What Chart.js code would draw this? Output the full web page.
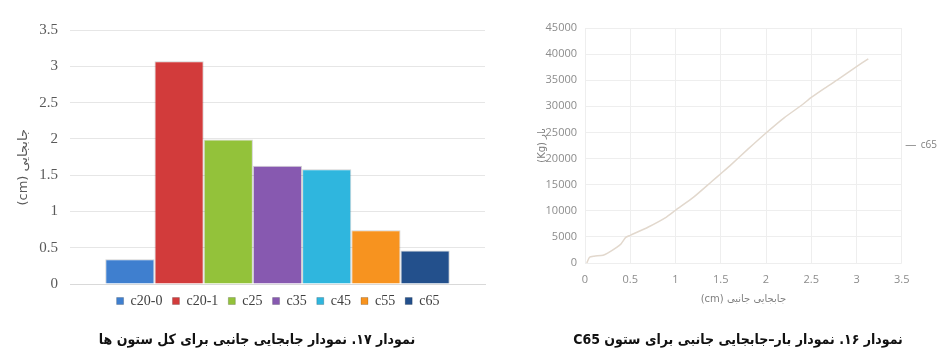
<!DOCTYPE html>
<html>
<head>
<meta charset="utf-8">
<script src="https://cdn.jsdelivr.net/npm/chart.js@4.4.1/dist/chart.umd.min.js"></script>
<style>
  body { margin: 0; background: #fff; width: 951px; height: 363px; overflow: hidden; position: relative; }
  #wrapBar { position: absolute; left: 0; top: 0; width: 545px; height: 320px; }
  #wrapLoad { position: absolute; left: 520px; top: 0; width: 431px; height: 320px; }
  .caption { position: absolute; top: 331px; font-family: "DejaVu Sans Condensed", "DejaVu Sans", sans-serif;
             font-stretch: condensed; font-weight: bold; font-size: 14px; color: #111;
             white-space: nowrap; direction: rtl; }
  #capBar { left: 62px; width: 390px; text-align: center; }
  #capLoad { left: 538px; width: 400px; text-align: center; }
</style>
</head>
<body>
<div id="wrapLoad"><canvas id="loadChart"></canvas></div>
<div id="wrapBar"><canvas id="barChart"></canvas></div>
<div class="caption" id="capBar">نمودار ۱۷. نمودار جابجایی جانبی برای کل ستون ها</div>
<div class="caption" id="capLoad">نمودار ۱۶. نمودار بار–جابجایی جانبی برای ستون C65</div>

<script>
/* data for the bar chart (max lateral displacement, cm) */
const columnNames = ['c20-0', 'c20-1', 'c25', 'c35', 'c45', 'c55', 'c65'];
const displacements = [0.34, 3.07, 1.99, 1.63, 1.58, 0.74, 0.46];
const columnColors = ['#3f7fcf', '#d23b3b', '#93c23a', '#8759b0', '#2fb6de', '#f7931f', '#23508c'];

/* data for the load-displacement curve of c65 */
const c65Disp = [0.02, 0.05, 0.1, 0.2, 0.25, 0.35, 0.4, 0.45, 0.5, 0.7, 0.9, 1.0, 1.2, 1.4, 1.5, 1.6, 1.8, 2.0, 2.2, 2.4, 2.5, 2.65, 2.8, 3.0, 3.13];
const c65Load = [0, 1100, 1300, 1500, 1900, 3000, 3700, 4900, 5300, 6900, 8800, 10100, 12600, 15600, 17100, 18600, 21800, 24900, 27800, 30300, 31700, 33500, 35200, 37600, 39100];


/**************** bar chart *************************/

const serif = "'Liberation Serif', 'DejaVu Serif', serif";

const barSets = columnNames.map((name, i) => ({
    label: name,
    data: [displacements[i]],
    backgroundColor: columnColors[i],
    borderColor: 'rgba(0,0,0,0.18)',
    borderWidth: 1,
    barPercentage: 1,
    categoryPercentage: 0.83
}));

new Chart(document.getElementById('barChart'), {
    type: 'bar',
    data: { labels: [''], datasets: barSets },
    options: {
        responsive: true,
        maintainAspectRatio: false,
        animation: false,
        layout: { padding: { top: 30, left: 11, right: 0, bottom: 2 } },
        plugins: {
            tooltip: { enabled: false },
            legend: {
                position: 'bottom',
                labels: {
                    boxWidth: 7, boxHeight: 7, padding: 10,
                    color: '#404040',
                    font: { family: serif, size: 14 }
                }
            }
        },
        scales: {
            x: {
                ticks: { display: false },
                grid: { display: false },
                border: { display: true, color: '#d9d9d9' },
                afterFit: (s) => { s.height = 0; }
            },
            y: {
                min: 0, max: 3.5,
                ticks: { stepSize: 0.5, padding: 12, color: '#595959', font: { family: serif, size: 15 },
                         callback: (v) => String(v) },
                grid: { color: '#e6e6e6', drawTicks: false },
                border: { display: false },
                // trailing spaces push the title a little lower, as in the original
                title: { display: true, text: '(cm) جابجایی\u00a0\u00a0\u00a0\u00a0\u00a0', color: '#595959', padding: 5,
                         font: { family: "'DejaVu Sans', sans-serif", size: 13 } },
                afterFit: (s) => { s.width = 59; }
            },
            // empty right axis: keeps the plot narrow so the legend sits centred under the bars
            yRight: {
                position: 'right',
                ticks: { display: false },
                grid: { display: false },
                border: { display: false },
                afterFit: (s) => { s.width = 60; }
            }
        }
    }
});


/**************** load - displacement chart *************************/

const sans = "'Open Sans', 'DejaVu Sans', sans-serif";

new Chart(document.getElementById('loadChart'), {
    type: 'line',
    data: {
        datasets: [{
            label: 'c65',
            data: c65Disp.map((d, i) => ({ x: d, y: c65Load[i] })),
            borderColor: '#e2d8cd',
            backgroundColor: '#9a9a9a',
            borderWidth: 1.5,
            pointRadius: 0,
            tension: 0.2
        }]
    },
    options: {
        responsive: true,
        maintainAspectRatio: false,
        animation: false,
        layout: { padding: { top: 28, left: 14, right: 4, bottom: 13 } },
        plugins: {
            tooltip: { enabled: false },
            legend: {
                position: 'right',
                fullSize: false,
                labels: {
                    boxWidth: 10, boxHeight: 0, padding: 4,
                    color: '#7f7f7f',
                    font: { family: sans, size: 10 },
                    generateLabels: (chart) => [{
                        text: 'c65', fillStyle: '#9a9a9a', strokeStyle: '#9a9a9a',
                        lineWidth: 1, fontColor: '#7f7f7f', datasetIndex: 0
                    }]
                }
            }
        },
        scales: {
            x: {
                type: 'linear',
                min: 0, max: 3.5,
                ticks: { stepSize: 0.5, padding: 10, color: '#8c8c8c', font: { family: sans, size: 11 },
                         callback: (v) => String(v) },
                grid: { color: '#eeeeee', drawTicks: false },
                border: { display: false },
                title: { display: true, text: '(cm) جابجایی جانبی', color: '#7f7f7f', padding: 2,
                         font: { family: "'DejaVu Sans', sans-serif", size: 10 } },
                afterFit: (s) => { s.height = 44; }
            },
            y: {
                min: 0, max: 45000,
                ticks: { stepSize: 5000, padding: 8, color: '#8c8c8c', font: { family: sans, size: 11 },
                         callback: (v) => String(v) },
                grid: { color: '#eeeeee', drawTicks: false },
                border: { display: false },
                title: { display: true, text: '(Kg) بار', color: '#7f7f7f', padding: 2,
                         font: { family: "'DejaVu Sans', sans-serif", size: 10 } },
                afterFit: (s) => { s.width = 51; }
            }
        }
    }
});
</script>
</body>
</html>
